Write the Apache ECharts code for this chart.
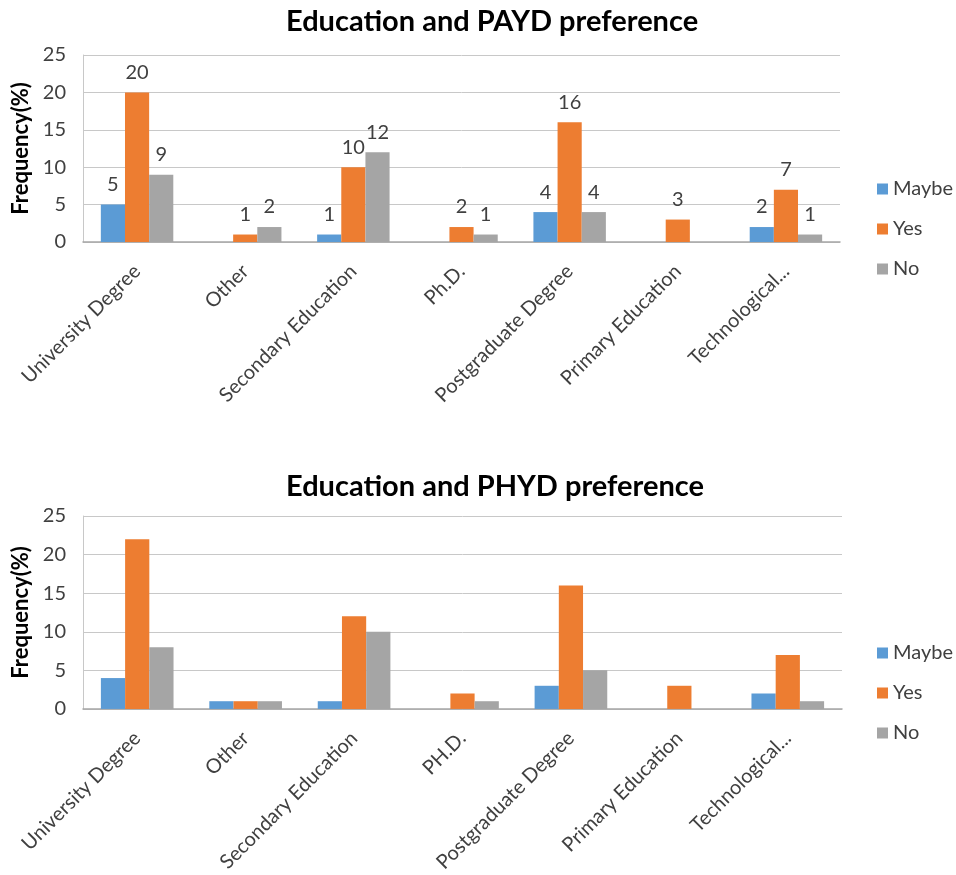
<!DOCTYPE html>
<html>
<head>
<meta charset="utf-8">
<script src="https://cdn.jsdelivr.net/npm/echarts@6/dist/echarts.min.js"></script>
<style>
  html, body { margin: 0; padding: 0; background: #fff; }
  #chart { width: 956px; height: 875px; }
</style>
</head>
<body>
<div id="chart"></div>
<script>
// Education levels shown on both panels
const categoriesPAYD = ['University Degree', 'Other', 'Secondary Education', 'Ph.D.', 'Postgraduate Degree', 'Primary Education', 'Technological...'];
const categoriesPHYD = ['University Degree', 'Other', 'Secondary Education', 'PH.D.', 'Postgraduate Degree', 'Primary Education', 'Technological...'];
const seriesNames = ['Maybe', 'Yes', 'No'];
const yTicks = [0, 5, 10, 15, 20, 25];

// PAYD preference frequencies (%)
const paydMaybe = [5, 0, 1, 0, 4, 0, 2];
const paydYes   = [20, 1, 10, 2, 16, 3, 7];
const paydNo    = [9, 2, 12, 1, 4, 0, 1];

// PHYD preference frequencies (%)
const phydMaybe = [4, 1, 1, 0, 3, 0, 2];
const phydYes   = [22, 1, 12, 2, 16, 3, 7];
const phydNo    = [8, 1, 10, 1, 5, 0, 1];

const colors = ['#5B9BD5', '#ED7D31', '#A5A5A5'];
const FONT = 'Lato, "Open Sans", sans-serif';
const TXT = '#404040';

const chart = echarts.init(document.getElementById('chart'), null, { renderer: 'canvas' });

function xAxis(gridIndex, cats) {
  return {
    type: 'category', gridIndex, data: cats,
    axisTick: { show: false },
    axisLine: { lineStyle: { color: '#A6A6A6', width: 1.5 } },
    axisLabel: { rotate: 45, fontSize: 20, color: TXT, fontFamily: FONT, margin: 26, interval: 0 }
  };
}
function yAxis(gridIndex) {
  return {
    type: 'value', gridIndex, min: yTicks[0], max: yTicks[yTicks.length - 1], interval: 5,
    name: 'Frequency(%)', nameLocation: 'middle', nameGap: 33,
    nameTextStyle: { fontSize: 22, fontWeight: 'bold', color: '#000', fontFamily: FONT },
    axisLine: { show: true, lineStyle: { color: '#C8C8C8' } },
    axisTick: { show: false },
    splitLine: { lineStyle: { color: '#C8C8C8', width: 1 } },
    axisLabel: { fontSize: 20, color: TXT, fontFamily: FONT, margin: 17 }
  };
}
function bar(name, data, idx, withLabels) {
  return {
    name, type: 'bar', data, xAxisIndex: idx, yAxisIndex: idx,
    barGap: '0%', barCategoryGap: '33%',
    itemStyle: { color: colors[seriesNames.indexOf(name)] },
    label: {
      show: withLabels, position: 'top', distance: 10,
      fontSize: 20, color: TXT, fontFamily: FONT,
      formatter: p => (p.value === 0 ? '' : String(p.value))
    }
  };
}
function legend(top) {
  return {
    orient: 'vertical', left: 872, top, data: seriesNames,
    icon: 'rect', itemWidth: 11, itemHeight: 11, itemGap: 20,
    textStyle: { fontSize: 20, color: TXT, fontFamily: FONT, lineHeight: 20 }
  };
}
function title(text, top) {
  return { text, left: 281, top,
    textStyle: { fontSize: 29, fontWeight: 'bold', color: '#000', fontFamily: FONT } };
}

chart.setOption({
  animation: false,
  textStyle: { fontFamily: FONT },
  title: [title('Education and PAYD preference', 2), title('Education and PHYD preference', 467)],
  legend: [legend(174), legend(638)],
  grid: [
    { left: 83, top: 55, width: 757, height: 187 },
    { left: 83, top: 516, width: 759, height: 196 }
  ],
  xAxis: [xAxis(0, categoriesPAYD), xAxis(1, categoriesPHYD)],
  yAxis: [yAxis(0), yAxis(1)],
  series: [
    bar('Maybe', paydMaybe, 0, true),
    bar('Yes', paydYes, 0, true),
    bar('No', paydNo, 0, true),
    bar('Maybe', phydMaybe, 1, false),
    bar('Yes', phydYes, 1, false),
    bar('No', phydNo, 1, false)
  ]
});
</script>
</body>
</html>
